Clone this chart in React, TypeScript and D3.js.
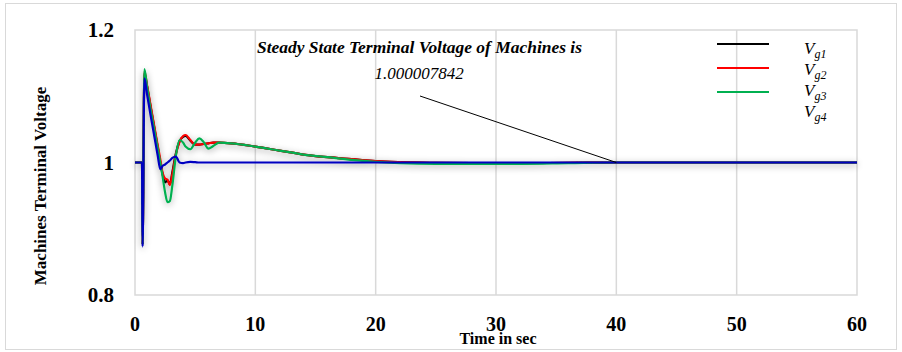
import React from "react";
import * as d3 from "d3";

const time = [0, 0.58, 0.63, 0.78, 1.0, 1.3, 1.6, 1.9, 2.1, 2.3, 2.5, 2.7, 2.9, 3.1, 3.4, 3.7, 4.0, 4.2, 4.6, 5.0, 5.35, 5.7, 6.1, 6.5, 7.0, 8, 10, 12, 14, 16, 18, 20, 22, 25, 28, 32, 36, 40, 50, 60];

const vg1 = [1, 1, 0.876, 1.135, 1.115, 1.084, 1.053, 1.022, 1.0, 0.982, 0.970, 0.973, 0.967, 0.985, 1.014, 1.032, 1.039, 1.040, 1.033, 1.027, 1.027, 1.028, 1.029, 1.030, 1.030, 1.029, 1.024, 1.018, 1.012, 1.008, 1.005, 1.002, 1.0005, 0.9995, 0.999, 0.999, 0.9995, 1.0, 1.0, 1.0];
const vg2 = [1, 1, 0.876, 1.138, 1.117, 1.086, 1.055, 1.025, 1.005, 0.984, 0.976, 0.974, 0.966, 0.982, 1.012, 1.031, 1.040, 1.0415, 1.034, 1.027, 1.027, 1.028, 1.029, 1.030, 1.030, 1.029, 1.024, 1.018, 1.012, 1.008, 1.005, 1.002, 1.0005, 0.9995, 0.999, 0.999, 0.9995, 1.0, 1.0, 1.0];
const vg3 = [1, 1, 0.876, 1.141, 1.115, 1.08, 1.05, 1.02, 1.0, 0.978, 0.955, 0.940, 0.942, 0.965, 1.010, 1.034, 1.030, 1.024, 1.020, 1.030, 1.0365, 1.031, 1.021, 1.025, 1.030, 1.029, 1.024, 1.018, 1.012, 1.008, 1.004, 1.001, 0.999, 0.998, 0.998, 0.998, 0.999, 1.0, 1.0, 1.0];
const vg4 = [1, 1, 0.873, 1.127, 1.103, 1.071, 1.040, 1.009, 0.990, 0.995, 0.997, 1.0, 1.003, 1.007, 1.009, 1.0, 0.999, 1.0, 1.001, 1.0005, 1.0, 1.0, 1.0, 1.0, 1.0, 1.0, 1.0, 1.0, 1.0, 1.0, 1.0, 1.0, 1.0, 1.0, 1.0, 1.0, 1.0, 1.0, 1.0, 1.0];

const seriesNames = ["g1", "g2", "g3", "g4"];
const seriesColors = ["#000000", "#ff0000", "#00b050", "#0000c0"];
const seriesValues = [vg1, vg2, vg3, vg4];
const legendLineNames = ["g1", "g2", "g3"];

const xTicks = [0, 10, 20, 30, 40, 50, 60];
const yTicks = [0.8, 1, 1.2];
const yTickLabels = ["0.8", "1", "1.2"];

const annotationLine1 = "Steady State Terminal Voltage of Machines is";
const annotationLine2 = "1.000007842";
const steadyTime = 40;
const steadyValue = 1.0;

export default function App() {
  const W = 902, H = 352;
  const x = d3.scaleLinear().domain([0, 60]).range([135, 857]);
  const y = d3.scaleLinear().domain([0.8, 1.2]).range([295, 30]);
  const line = d3
    .line<[number, number]>()
    .x((d) => x(d[0]))
    .y((d) => y(d[1]))
    .curve(d3.curveMonotoneX);

  const serif = "'Liberation Serif', 'Times New Roman', serif";

  return (
    <svg width={W} height={H} style={{ position: "absolute", left: 0, top: 0, background: "#fff" }}>
      <defs>
        <filter id="shadow" x="-5%" y="-20%" width="110%" height="140%">
          <feGaussianBlur in="SourceAlpha" stdDeviation="3.5" />
          <feOffset dx="0" dy="2" result="blur" />
          <feComponentTransfer>
            <feFuncA type="linear" slope="0.35" />
          </feComponentTransfer>
          <feMerge>
            <feMergeNode />
            <feMergeNode in="SourceGraphic" />
          </feMerge>
        </filter>
      </defs>
      <rect x={5.5} y={3.5} width={891} height={346} fill="#fff" stroke="#d9d9d9" strokeWidth={1} />
      {/* gridlines */}
      {xTicks.slice(1, -1).map((t) => (
        <line key={t} x1={x(t)} x2={x(t)} y1={y(1.2)} y2={y(0.8)} stroke="#d9d9d9" strokeWidth={1.5} />
      ))}
      <rect x={x(0)} y={y(1.2)} width={x(60) - x(0)} height={y(0.8) - y(1.2)} fill="none" stroke="#d9d9d9" strokeWidth={1.5} />

      {/* series */}
      <g filter="url(#shadow)">
        {seriesValues.map((vals, i) => (
          <path
            key={seriesNames[i]}
            d={line(time.map((t, j) => [t, vals[j]]) as [number, number][]) || ""}
            fill="none"
            stroke={seriesColors[i]}
            strokeWidth={2.2}
            strokeLinejoin="round"
          />
        ))}
      </g>

      {/* annotation */}
      <line x1={420} y1={96} x2={x(steadyTime)} y2={y(steadyValue)} stroke="#000" strokeWidth={1} />
      <text x={257} y={53} fontFamily={serif} fontStyle="italic" fontWeight="bold" fontSize={17} textLength={325} lengthAdjust="spacingAndGlyphs">
        {annotationLine1}
      </text>
      <text x={419} y={79} textAnchor="middle" fontFamily={serif} fontStyle="italic" fontSize={17}>
        {annotationLine2}
      </text>

      {/* legend */}
      {legendLineNames.map((n, i) => (
        <line key={n} x1={717} x2={769} y1={44 + i * 24} y2={44 + i * 24} stroke={seriesColors[i]} strokeWidth={2.2} />
      ))}
      {seriesNames.map((n, i) => (
        <text key={n} x={804} y={53.5 + i * 21.3} fontFamily={serif} fontStyle="italic" fontSize={17}>
          V<tspan fontSize={12} dy={4}>{n}</tspan>
        </text>
      ))}

      {/* y ticks */}
      {yTicks.map((t, i) => (
        <text key={t} x={114} y={y(t)} dy="0.35em" textAnchor="end" fontFamily={serif} fontWeight="bold" fontSize={21}>
          {yTickLabels[i]}
        </text>
      ))}
      {/* x ticks */}
      {xTicks.map((t) => (
        <text key={t} x={x(t)} y={331} textAnchor="middle" fontFamily={serif} fontWeight="bold" fontSize={20}>
          {t}
        </text>
      ))}
      <text x={498} y={344} textAnchor="middle" fontFamily={serif} fontWeight="bold" fontSize={16}>
        Time in sec
      </text>
      <text
        transform={`translate(46,186) rotate(-90)`}
        textAnchor="middle"
        fontFamily={serif}
        fontWeight="bold"
        fontSize={17}
      >
        Machines Terminal Voltage
      </text>
    </svg>
  );
}
